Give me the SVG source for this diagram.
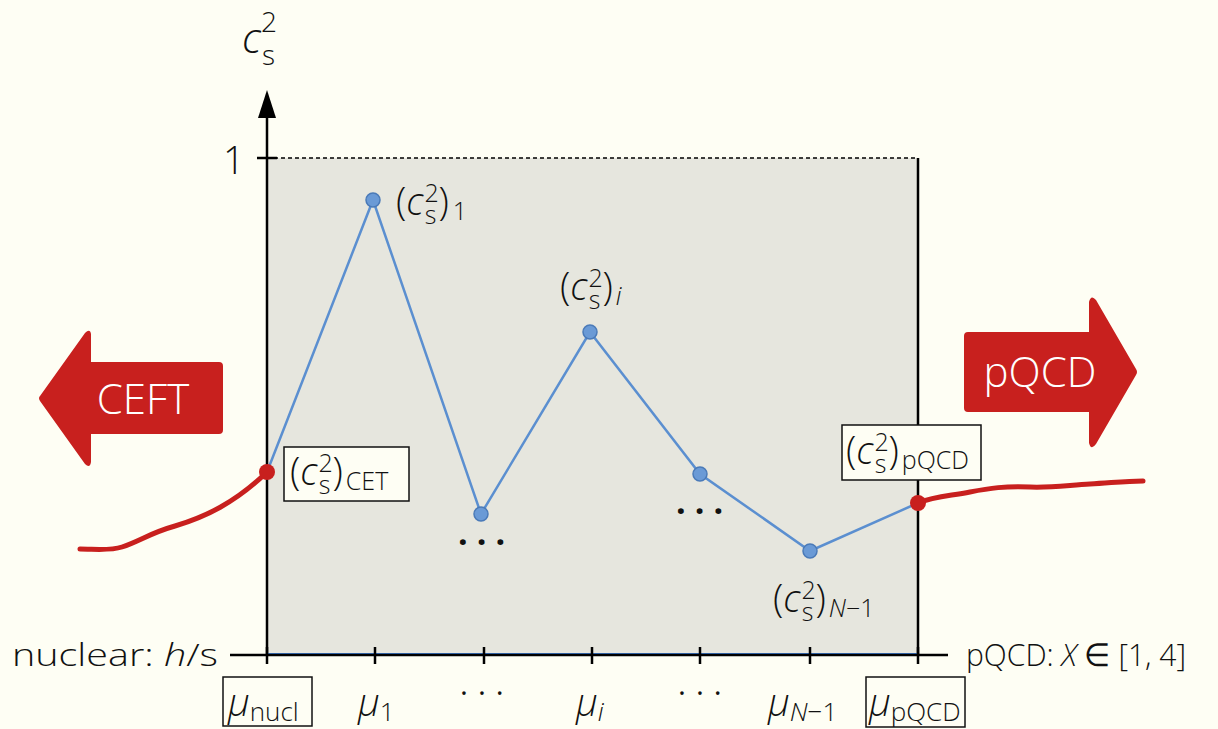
<svg xmlns="http://www.w3.org/2000/svg" width="1218" height="729" viewBox="0 0 1218 729">
<style>
.t{font-family:"Open Sans","Liberation Sans",sans-serif;font-weight:300;fill:#111}
.m{font-style:italic}
.lb{font-size:38px}
.ax{stroke:#000;stroke-width:2.5;fill:none}
.blue{stroke:#5B8FD0;stroke-width:2.5;fill:none}
.pt{fill:#6A9AD6;stroke:#4A7AB8;stroke-width:1.5}
.red{stroke:#C8201E;stroke-width:5;fill:none;stroke-linecap:round}
.rpt{fill:#C8201E}
.box{fill:#FEFEF4;stroke:#111;stroke-width:1.5}
.dots{font-family:"Open Sans","Liberation Sans",sans-serif;font-weight:700;fill:#111;font-size:34px;letter-spacing:9px}
.dots2{font-family:"Open Sans","Liberation Sans",sans-serif;font-weight:400;fill:#111;font-size:30px;letter-spacing:10px}
.wt{font-family:"Open Sans","Liberation Sans",sans-serif;font-weight:300;fill:#fff;font-size:42px}
</style>
<rect width="1218" height="729" fill="#FEFEF4"/>
<rect x="267" y="158" width="651" height="497" fill="#E6E6DE"/>
<g id="axes">
<line x1="267" y1="158" x2="918" y2="158" stroke="#000" stroke-width="1.5" stroke-dasharray="4,3"/>
<line x1="918" y1="158" x2="918" y2="655" class="ax"/>
<line x1="267" y1="655" x2="267" y2="112" class="ax"/>
<polygon points="267,90 258,118 276,118" fill="#000"/>
<line x1="230" y1="655" x2="948" y2="655" class="ax"/>
<line x1="267" y1="653.5" x2="918" y2="653.5" stroke="#2F5FA0" stroke-width="1"/>
<line x1="257" y1="158" x2="277" y2="158" class="ax"/>
<g stroke="#000" stroke-width="2.5">
<line x1="267" y1="647" x2="267" y2="664"/>
<line x1="375" y1="647" x2="375" y2="664"/>
<line x1="484" y1="647" x2="484" y2="664"/>
<line x1="592" y1="647" x2="592" y2="664"/>
<line x1="700" y1="647" x2="700" y2="664"/>
<line x1="810" y1="647" x2="810" y2="664"/>
<line x1="918" y1="647" x2="918" y2="664"/>
</g>
<text class="t" x="223" y="174" font-size="38">1</text>
<text class="t" x="242" y="53" font-size="42"><tspan class="m">c</tspan><tspan font-size="28" dy="-21">2</tspan><tspan font-size="28" dx="-15" dy="33">s</tspan></text>
<text class="t" x="12" y="666" font-size="32" textLength="206" lengthAdjust="spacingAndGlyphs">nuclear: <tspan class="m">h</tspan>/s</text>
<text class="t" x="966" y="666" font-size="32" textLength="220" lengthAdjust="spacingAndGlyphs">pQCD: <tspan class="m">X</tspan> ∈ [1, 4]</text>
</g>
<g id="arrows">
<path id="ceft" d="M223,366 Q223,362 219,362 L91,362 L91,334 Q90,328 85,333 L40,396 Q38,398 40,401 L85,464 Q90,469 91,462 L91,434 L219,434 Q223,434 223,430 Z" fill="#C8201E"/>
<text class="wt" x="143" y="414" text-anchor="middle">CEFT</text>
<path id="pqcd" d="M964,336 Q964,332 968,332 L1089,332 L1089,302 Q1091,294 1096,300 L1136,369 Q1138,372 1136,375 L1096,444 Q1091,451 1089,443 L1089,412 L968,412 Q964,412 964,408 Z" fill="#C8201E"/>
<text class="wt" x="1040" y="387" text-anchor="middle">pQCD</text>
</g>
<g id="connectors">
<polyline class="blue" points="267,472 373,200 481,514 590,332 700,474 810,551 918,503"/>
<path class="red" d="M80,549 C95,549 110,551 122,547 C140,541 150,533 175,526 C205,517 235,503 267,472"/>
<path class="red" d="M918,503 C935,496 950,496 970,492 C990,488 1005,486 1030,487 C1050,488 1070,485 1090,484 C1110,483 1125,481 1143,481"/>
</g>
<g id="points">
<circle class="pt" cx="373" cy="200" r="7"/>
<circle class="pt" cx="481" cy="514" r="7"/>
<circle class="pt" cx="590" cy="332" r="7"/>
<circle class="pt" cx="700" cy="474" r="7"/>
<circle class="pt" cx="810" cy="551" r="7"/>
<circle class="rpt" cx="267" cy="472" r="8"/>
<circle class="rpt" cx="918" cy="503" r="8"/>
</g>
<g id="label-1">
<text class="t lb" x="396" y="215">(<tspan class="m">c</tspan><tspan font-size="25" dx="1" dy="-13">2</tspan><tspan font-size="25" dx="-14" dy="22">s</tspan><tspan dx="2" dy="-9">)</tspan><tspan font-size="25" dx="4" dy="5">1</tspan></text>
</g>
<g id="label-i">
<text class="t lb" x="560" y="300">(<tspan class="m">c</tspan><tspan font-size="25" dx="1" dy="-13">2</tspan><tspan font-size="25" dx="-14" dy="22">s</tspan><tspan dx="2" dy="-9">)</tspan><tspan font-size="25" dx="3" dy="5" class="m">i</tspan></text>
</g>
<g id="label-n1">
<text class="t lb" x="773" y="612">(<tspan class="m">c</tspan><tspan font-size="25" dx="1" dy="-13">2</tspan><tspan font-size="25" dx="-14" dy="22">s</tspan><tspan dx="2" dy="-9">)</tspan><tspan font-size="25" dx="3" dy="5"><tspan class="m">N</tspan>−1</tspan></text>
</g>
<g id="label-cet">
<rect class="box" x="284" y="447" width="125" height="54"/>
<text class="t lb" x="290" y="485">(<tspan class="m">c</tspan><tspan font-size="25" dx="1" dy="-13">2</tspan><tspan font-size="25" dx="-14" dy="22">s</tspan><tspan dx="2" dy="-9">)</tspan><tspan font-size="25" dx="3" dy="5">CET</tspan></text>
</g>
<g id="label-pqcd">
<rect class="box" x="842" y="425" width="139" height="55"/>
<text class="t lb" x="846" y="464">(<tspan class="m">c</tspan><tspan font-size="25" dx="1" dy="-13">2</tspan><tspan font-size="25" dx="-14" dy="22">s</tspan><tspan dx="2" dy="-9">)</tspan><tspan font-size="25" dx="3" dy="5">pQCD</tspan></text>
</g>
<g id="dots">
<text class="dots" x="458" y="554">···</text>
<text class="dots" x="676" y="523">···</text>
</g>
<g id="ticklabels">
<rect class="box" x="223" y="677" width="89" height="49"/>
<text class="t" x="228" y="716" font-size="38"><tspan class="m">μ</tspan><tspan font-size="26" dy="5">nucl</tspan></text>
<text class="t" x="358" y="716" font-size="38"><tspan class="m">μ</tspan><tspan font-size="26" dy="5">1</tspan></text>
<text class="dots2" x="460" y="703">···</text>
<text class="t" x="576" y="716" font-size="38"><tspan class="m">μ</tspan><tspan font-size="26" dy="5" class="m">i</tspan></text>
<text class="dots2" x="678" y="703">···</text>
<text class="t" x="768" y="716" font-size="38"><tspan class="m">μ</tspan><tspan font-size="26" dy="5"><tspan class="m">N</tspan>−1</tspan></text>
<rect class="box" x="866" y="677" width="99" height="50"/>
<text class="t" x="869" y="716" font-size="38"><tspan class="m">μ</tspan><tspan font-size="26" dy="5">pQCD</tspan></text>
</g>
</svg>
